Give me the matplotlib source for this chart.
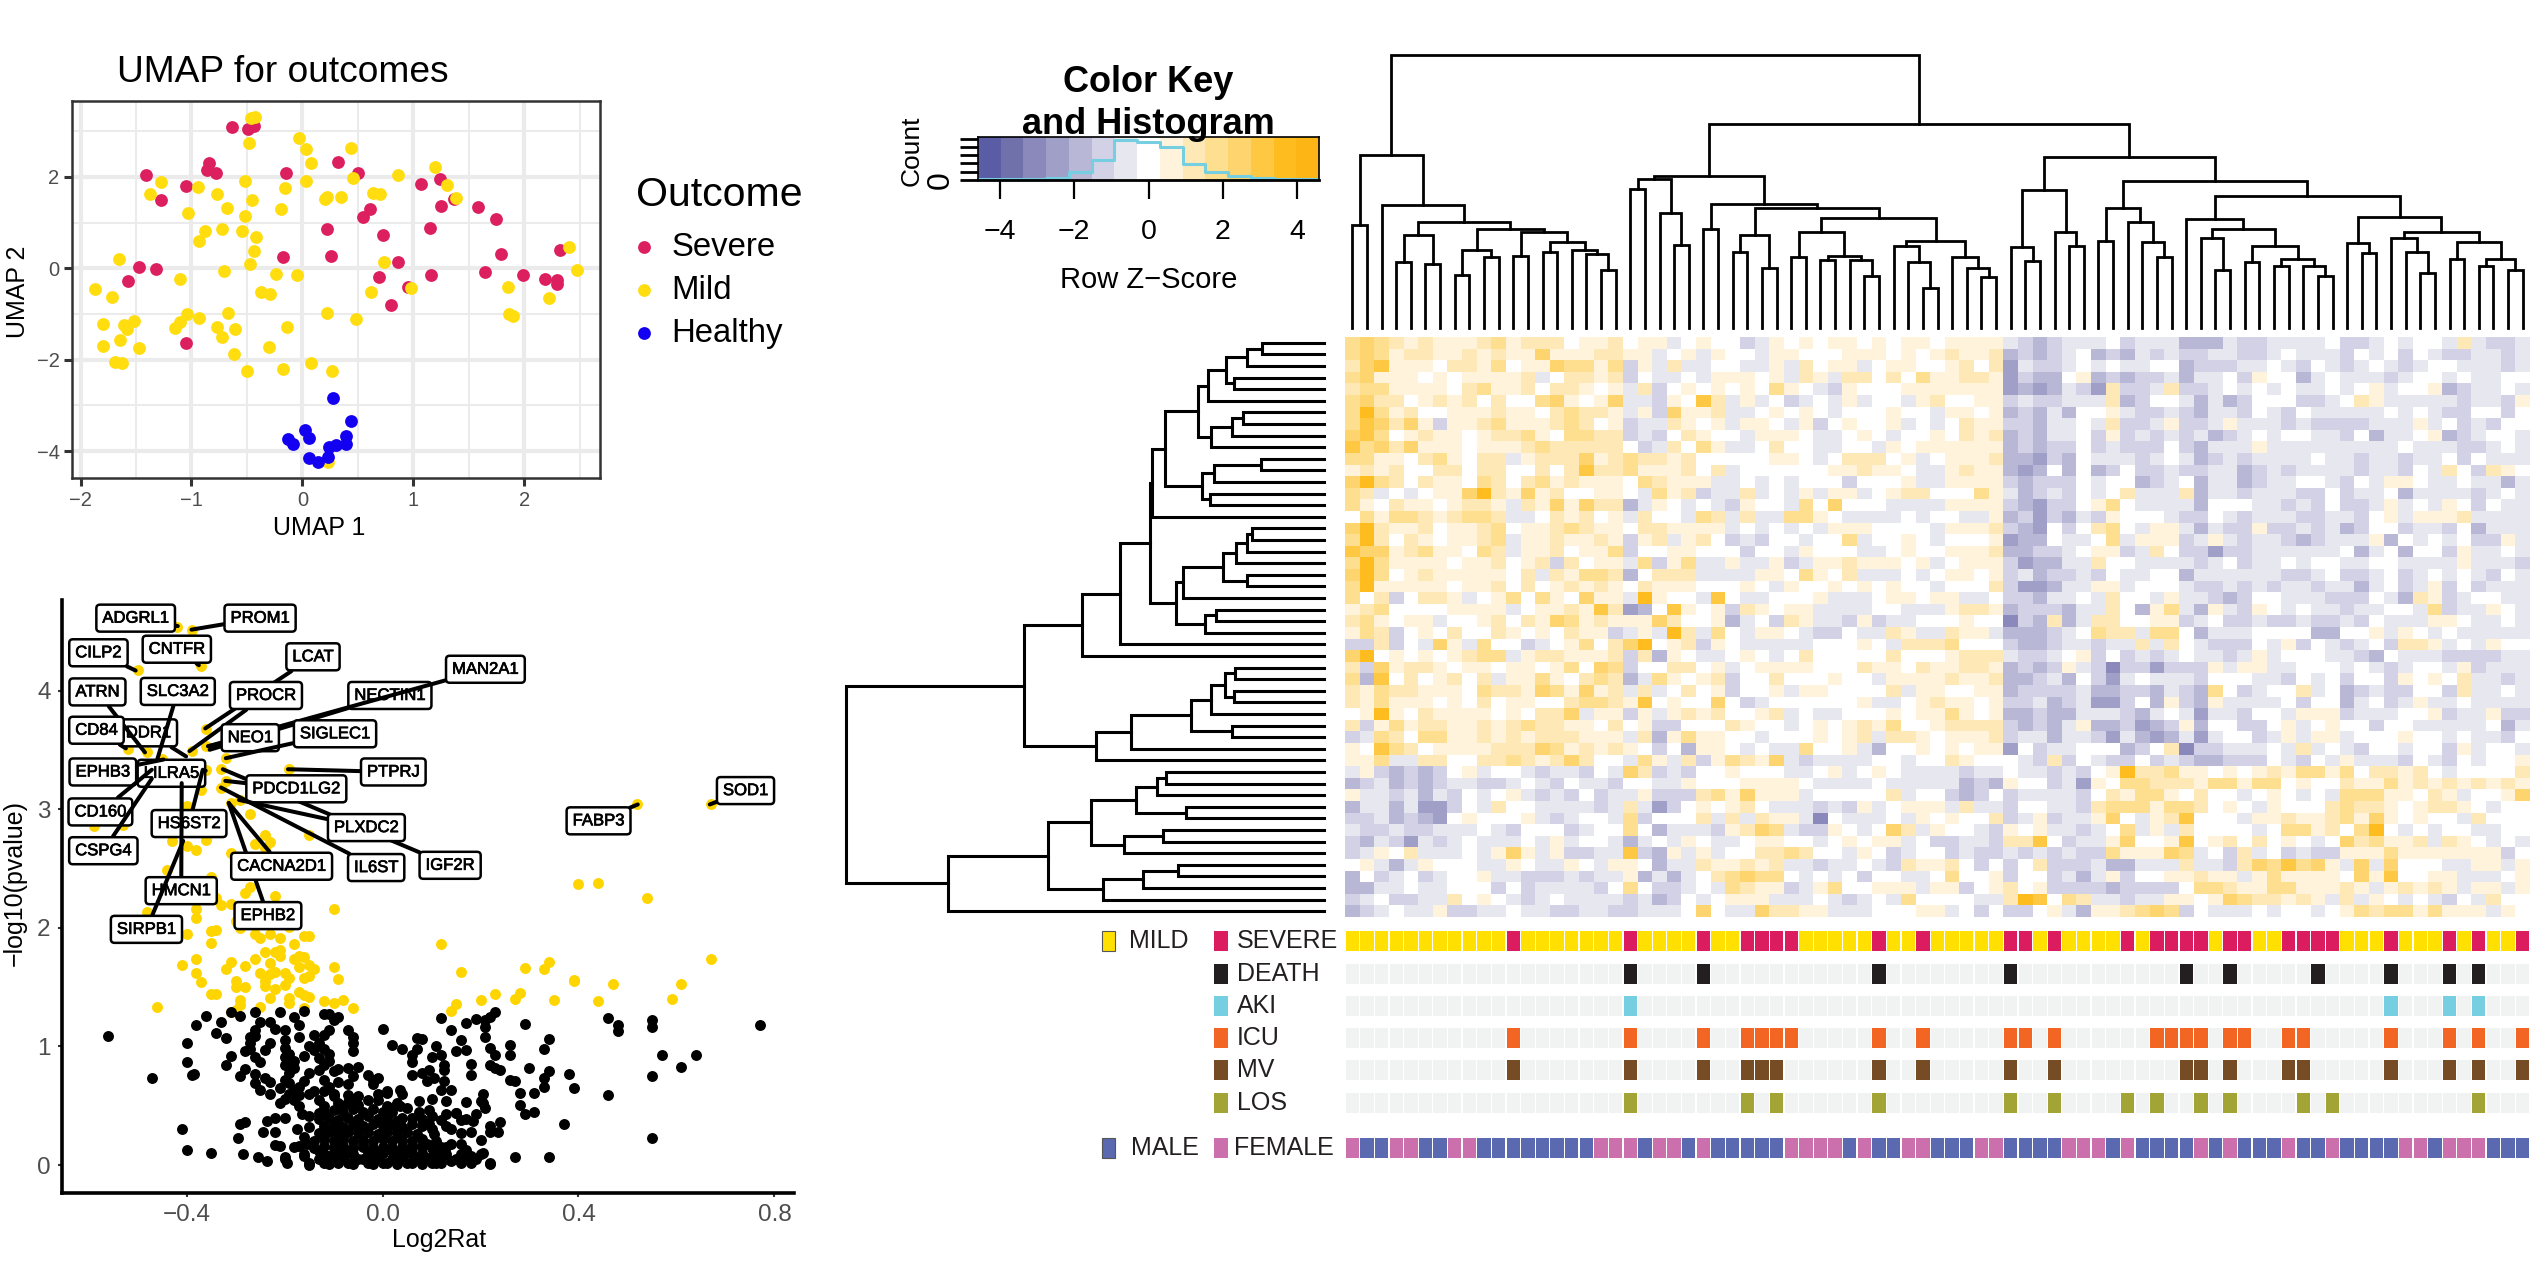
import numpy as np
import matplotlib
matplotlib.use("Agg")
import matplotlib.pyplot as plt
import matplotlib.patheffects as pe
from matplotlib.colors import ListedColormap, BoundaryNorm
from matplotlib.patches import Rectangle

plt.rcParams['font.family'] = ['Liberation Sans', 'DejaVu Sans']

W, H = 2530, 1277

# ---------- umap data
severe_pts = [(-0.63,3.10),(-0.49,3.04),(-0.44,3.12),(-0.84,2.31),(-0.86,2.16),(-0.78,2.09),(-1.41,2.03),(-1.05,1.79),
 (-1.27,1.50),(-0.15,2.09),(0.32,2.32),(0.50,2.08),(1.07,1.84),(1.24,1.95),(1.37,1.51),(1.25,1.37),(1.58,1.33),(1.75,1.07),
 (0.61,1.29),(0.55,1.12),(1.15,0.87),(0.73,0.72),(0.22,0.85),(0.26,0.27),(-0.17,0.24),(0.86,0.13),(1.79,0.31),(1.65,-0.09),
 (1.99,-0.15),(2.19,-0.24),(2.30,-0.25),(2.30,-0.35),(2.32,0.39),(1.16,-0.14),(0.69,-0.20),(0.95,-0.40),(0.80,-0.80),
 (-1.47,0.02),(-1.32,-0.01),(-1.57,-0.27),(-1.05,-1.64)]
mild_pts = [(-0.46,3.29),(-0.43,3.31),(-0.48,2.73),(-0.03,2.85),(0.03,2.62),(0.44,2.64),(0.08,2.30),(0.46,1.98),(0.03,1.91),
 (0.86,2.04),(1.20,2.21),(1.30,1.82),(1.39,1.54),(-0.52,1.90),(-0.16,1.76),(0.20,1.52),(0.22,1.55),(0.35,1.56),(0.64,1.65),
 (0.70,1.63),(-1.27,1.88),(-1.37,1.62),(-0.94,1.78),(-0.77,1.63),(-0.45,1.50),(-0.19,1.29),(-0.68,1.32),(-1.03,1.22),
 (-0.52,1.14),(-0.88,0.82),(-0.93,0.60),(-0.72,0.86),(-0.54,0.81),(-0.42,0.68),(-0.44,0.38),(-0.47,0.10),(-1.65,0.20),
 (-0.71,-0.07),(-1.10,-0.24),(-0.24,-0.12),(-0.05,-0.15),(0.74,0.14),(2.40,0.47),(2.48,-0.04),(1.85,-0.41),(2.22,-0.65),
 (1.86,-1.00),(1.90,-1.04),(0.98,-0.43),(0.62,-0.53),(0.22,-0.99),(0.48,-1.11),(-1.87,-0.46),(-1.72,-0.62),(-0.37,-0.53),
 (-0.29,-0.57),(-0.67,-0.97),(-1.04,-1.00),(-0.93,-1.09),(-1.10,-1.18),(-1.15,-1.31),(-0.77,-1.29),(-0.61,-1.33),(-0.72,-1.50),
 (-0.14,-1.29),(-1.80,-1.21),(-1.61,-1.25),(-1.58,-1.33),(-1.52,-1.15),(-1.80,-1.71),(-1.64,-1.58),(-1.47,-1.75),(-0.62,-1.88),
 (-0.30,-1.73),(-1.69,-2.05),(-1.63,-2.08),(-0.50,-2.25),(-0.17,-2.20),(0.08,-2.07),(0.27,-2.24),(0.23,-4.24)]
healthy_pts = [(0.28,-2.83),(0.44,-3.35),(0.02,-3.55),(0.06,-3.71),(-0.13,-3.73),(-0.08,-3.85),(0.39,-3.67),(0.39,-3.85),
 (0.30,-3.86),(0.24,-3.91),(0.23,-4.12),(0.06,-4.16),(0.14,-4.24)]

# ---------- volcano data
sig_pts = [(0.52,3.04),(0.67,3.04),(0.40,2.37),(0.44,2.38),(0.54,2.25),(0.67,1.74),(0.12,1.86),(0.16,1.63),(0.29,1.66),(0.33,1.65),
 (0.34,1.71),(0.39,1.56),(0.39,1.55),(0.47,1.53),(0.61,1.53),(0.59,1.40),(0.44,1.38),(0.35,1.39),(0.28,1.45),(0.27,1.40),(0.23,1.44),
 (0.20,1.39),(0.15,1.36),(0.14,1.30),(-0.10,2.16),(-0.46,1.33),(-0.06,1.32),(-0.42,4.54),(-0.39,4.51),(-0.37,4.21),(-0.50,4.17),
 (-0.36,3.68),(-0.36,3.53),(-0.39,3.49),(-0.52,3.51),(-0.48,3.48),(-0.45,3.42),(-0.36,3.33),(-0.32,3.43),(-0.33,3.34),(-0.32,3.24),
 (-0.33,3.18),(-0.19,3.34),(-0.29,3.08),(-0.31,3.05),(-0.37,3.16),(-0.40,3.03),(-0.27,2.96),(-0.59,2.86),(-0.53,2.87),(-0.24,2.78),
 (-0.15,2.78),(-0.26,2.71),(-0.23,2.72),(-0.24,2.67),(-0.43,2.73),(-0.40,2.69),(-0.38,2.66),(-0.36,2.74),(-0.31,2.63),(-0.44,2.49),
 (-0.35,2.43),(-0.27,2.34),(-0.28,2.29),(-0.22,2.27),(-0.48,2.13),(-0.34,2.25),(-0.33,2.19),(-0.31,2.20),(-0.38,2.16),(-0.38,2.08),
 (-0.30,2.06),(-0.40,1.95),(-0.35,1.97),(-0.34,1.98),(-0.29,2.00),(-0.35,1.87),(-0.19,2.01),(-0.26,1.95),(-0.23,1.95),(-0.25,1.91),
 (-0.21,1.91),(-0.16,1.93),(-0.15,1.93),(-0.18,1.86),(-0.41,1.69),(-0.38,1.74),(-0.38,1.62),(-0.37,1.54),(-0.35,1.44),(-0.34,1.44),
 (-0.32,1.65),(-0.31,1.71),(-0.28,1.68),(-0.26,1.74),(-0.24,1.80),(-0.22,1.80),(-0.21,1.81),(-0.23,1.70),(-0.21,1.76),(-0.18,1.74),
 (-0.17,1.76),(-0.16,1.75),(-0.17,1.67),(-0.15,1.69),(-0.14,1.65),(-0.10,1.67),(-0.09,1.57),(-0.25,1.62),(-0.23,1.61),(-0.22,1.63),
 (-0.20,1.62),(-0.19,1.58),(-0.16,1.58),(-0.15,1.59),(-0.20,1.52),(-0.24,1.51),(-0.30,1.55),(-0.30,1.50),(-0.28,1.50),(-0.24,1.55),
 (-0.22,1.48),(-0.23,1.41),(-0.17,1.46),(-0.16,1.43),(-0.15,1.42),(-0.19,1.41),(-0.19,1.37),(-0.16,1.32),(-0.12,1.38),(-0.10,1.37),
 (-0.08,1.39),(-0.25,1.33),(-0.29,1.39),(-0.29,1.35),(-0.30,1.31),(-0.31,1.29)]
ns_pts = [(-0.56,1.09),(-0.47,0.73),(-0.41,0.30),(-0.40,0.13),(-0.35,0.10),(-0.40,1.03),(-0.40,0.87),(-0.39,0.76),(-0.385,0.77),
 (-0.38,1.18),(-0.36,1.26),(-0.33,1.21),(-0.34,1.11),(-0.32,1.07),(-0.32,0.84),(-0.31,0.92),(-0.31,1.29),(-0.29,1.26),(-0.26,1.29),
 (-0.25,1.21),(-0.23,1.21),(-0.22,1.15),(-0.20,1.14),(-0.21,1.29),(-0.16,1.30),(-0.18,1.25),(-0.12,1.27),(-0.11,1.27),(-0.09,1.25),
 (-0.10,1.22),(-0.17,1.18),(-0.17,1.08),(-0.14,1.10),(-0.12,1.10),(-0.11,1.14),(-0.07,1.14),(-0.06,1.08),(-0.06,1.03),(-0.06,0.96),
 (0.00,1.15),(0.02,1.01),(0.04,0.98),(0.07,1.07),(0.08,1.06),(0.07,0.98),(0.06,0.93),(0.06,0.87),(0.11,1.00),(0.10,0.91),(0.12,0.93),
 (0.12,1.24),(0.14,1.14),(0.17,1.20),(0.19,1.23),(0.21,1.22),(0.22,1.25),(0.23,1.29),(0.21,1.16),(0.21,1.08),(0.16,1.05),(0.17,0.97),
 (0.15,0.96),(0.22,0.99),(0.23,0.93),(0.18,0.85),(0.18,0.76),(0.22,0.84),(0.23,0.82),(0.24,0.80),(0.26,1.01),(0.26,0.93),(0.29,1.19),
 (0.34,1.06),(0.33,0.98),(0.30,0.82),(0.34,0.79),(0.33,0.73),(0.33,0.66),(0.31,0.61),(0.28,0.61),(0.28,0.51),(0.29,0.43),(0.31,0.45),
 (0.26,0.72),(0.27,0.71),(0.38,0.77),(0.39,0.65),(0.46,0.59),(0.37,0.35),(0.27,0.07),(0.34,0.07),(0.46,1.24),(0.48,1.18),(0.48,1.13),
 (0.55,1.22),(0.55,1.16),(0.57,0.93),(0.64,0.93),(0.61,0.83),(0.55,0.75),(0.55,0.23),(0.77,1.18),
 (-0.26,1.14),(-0.27,1.08),(-0.26,1.09),(-0.27,1.03),(-0.28,0.96),(-0.27,0.98),(-0.24,0.97),(-0.23,1.03),(-0.26,0.91),(-0.25,0.87),
 (-0.28,0.81),(-0.29,0.75),(-0.26,0.77),(-0.24,0.73),(-0.26,0.69),(-0.23,0.70),(-0.25,0.63),(-0.23,0.60),(-0.21,0.52),(-0.20,1.05),
 (-0.20,0.99),(-0.20,0.91),(-0.18,0.88),(-0.20,0.84),(-0.19,0.78),(-0.20,0.72),(-0.19,0.69),(-0.21,0.65),(-0.18,0.63),(-0.16,0.71),
 (-0.17,0.59),(-0.18,0.55),(-0.13,1.03),(-0.14,0.97),(-0.13,0.90),(-0.13,0.80),(-0.12,0.72),(-0.14,0.62),(-0.13,0.55),(-0.12,0.50),
 (-0.11,0.88),(-0.10,0.79),(-0.11,0.66),(-0.09,0.70),(-0.09,0.81),(-0.07,0.82),(-0.05,0.83),(-0.06,0.75),(-0.03,0.76),(-0.02,0.72),
 (-0.07,0.68),(-0.02,0.68),(0.01,0.62),(-0.01,0.55),(0.01,0.50),(0.03,0.52),(0.04,0.60),(0.02,0.45),(0.04,0.40),
 (-0.15,0.02),(-0.12,0.02),(-0.11,0.01),(-0.09,0.02),(-0.07,0.02),(-0.06,0.01),(-0.03,0.02),(-0.02,0.01),(0.00,0.02),(0.01,0.02),
 (0.03,0.01),(0.05,0.02),(0.06,0.02),(0.08,0.01),(0.10,0.02),(0.11,0.02),(0.16,0.02),(0.18,0.02),(0.22,0.02),
 (-0.13,0.05),(-0.10,0.05),(-0.08,0.06),(-0.05,0.05),(-0.04,0.05),(-0.01,0.06),(0.02,0.05),(0.04,0.06),(0.07,0.05),(0.09,0.05),
 (0.12,0.06),(0.15,0.05),(0.17,0.06),(0.19,0.05),(-0.20,0.05),(-0.16,0.09),(-0.12,0.09),(-0.09,0.10),(-0.06,0.09),(-0.03,0.09),
 (0.00,0.10),(0.03,0.09),(0.06,0.09),(0.08,0.10),(0.13,0.09),(0.16,0.09),(0.18,0.08),(0.20,0.09),
 (-0.29,0.35),(-0.28,0.36),(-0.295,0.23),(-0.245,0.28),(-0.22,0.28),(-0.235,0.37),(-0.22,0.40),(-0.20,0.40),(-0.175,0.30),(-0.165,0.43),
 (-0.15,0.41),(-0.22,0.17),(-0.21,0.16),(-0.18,0.15),(-0.17,0.16),(-0.155,0.18),(-0.20,0.07),(-0.195,0.02),(-0.235,0.03),(-0.255,0.07),
 (-0.285,0.09),(-0.16,0.08),(-0.15,0.00),(-0.14,0.14),(-0.12,0.16),(-0.10,0.14),(-0.08,0.16),(-0.06,0.14),(-0.04,0.15),(-0.02,0.14),
 (0.00,0.15),(0.02,0.14),(0.04,0.15),(0.06,0.14),(0.08,0.16),(0.10,0.14),(0.12,0.15),(-0.14,0.20),(-0.12,0.22),(-0.10,0.20),(-0.08,0.22),
 (-0.06,0.20),(-0.04,0.21),(-0.02,0.20),(0.00,0.22),(0.02,0.20),(0.04,0.21),(0.06,0.20),(0.08,0.22),(-0.13,0.27),(-0.11,0.28),(-0.09,0.26),
 (-0.07,0.28),(-0.05,0.27),(-0.03,0.28),(-0.01,0.26),(0.01,0.28),(0.03,0.27),(0.05,0.28),(0.07,0.26),(-0.12,0.33),(-0.10,0.34),(-0.08,0.32),
 (-0.06,0.34),(-0.04,0.33),(-0.02,0.35),(0.00,0.33),(0.02,0.34),(0.04,0.32),(0.06,0.35),(0.08,0.33),(-0.13,0.39),(-0.11,0.40),(-0.09,0.38),
 (-0.07,0.40),(-0.05,0.39),(-0.03,0.41),(-0.01,0.39),(0.01,0.40),(0.06,0.40),(0.08,0.39),(-0.12,0.45),(-0.10,0.46),(-0.08,0.44),(-0.06,0.47),
 (-0.04,0.45),(-0.02,0.47),(0.00,0.45),(-0.09,0.52),(-0.07,0.53),(-0.05,0.51),(-0.03,0.55),(-0.10,0.58),(-0.07,0.59),(-0.05,0.58),(-0.12,0.62),
 (0.185,0.37),(0.19,0.43),(0.22,0.33),(0.24,0.36),(0.235,0.28),(0.22,0.28),(0.18,0.28),(0.20,0.21),(0.205,0.10),(0.22,0.01),(0.15,0.44),
 (0.16,0.38),(0.17,0.39),(0.13,0.43),(0.095,0.35),(0.13,0.33),(0.14,0.30),(0.16,0.27),(0.16,0.18),(0.14,0.18),(0.105,0.26),(0.11,0.20),
 (0.13,0.15),(0.205,0.60),(0.20,0.54),(0.21,0.48),(0.205,0.52),(0.17,0.53),(0.15,0.44),(0.125,0.71),(0.12,0.63),(0.14,0.63),(0.13,0.54),
 (0.10,0.56),(0.075,0.54),(0.095,0.46),(0.075,0.45),(0.05,0.48),(0.035,0.50),(0.015,0.48),(0.08,0.78),(0.095,0.80),(0.09,0.71),(0.105,0.73),
 (0.06,0.76),(0.125,0.80),(0.125,0.84),(0.035,0.63),(0.01,0.61),(-0.01,0.60),(-0.01,0.73),
 (-0.19,0.94),(-0.18,0.82),(-0.17,0.66),(-0.19,0.60),(-0.20,0.56),(-0.17,0.50),(-0.15,0.60),(-0.15,0.78),(-0.16,0.92),(-0.15,1.00),
 (-0.12,0.98),(-0.11,0.94),(-0.12,0.84),(-0.10,0.60),(-0.13,0.44),(-0.15,0.32),(-0.16,0.24),(-0.11,0.08),(-0.07,0.11),(-0.02,0.06),
 (0.02,0.12),(0.05,0.11),(0.10,0.08),(0.12,0.02),(0.14,0.03),(0.17,0.13),(0.11,0.12),(0.09,0.18),(0.10,0.30),(0.12,0.38),(0.10,0.41),
 (-0.01,0.11),(-0.04,0.18),(0.03,0.24),(-0.05,0.31),(0.03,0.37),(-0.08,0.50),(-0.06,0.56),(0.06,0.17),(-0.10,0.30),(-0.13,0.12)]

# gene labels, drawn in this order so the boxes stack as in the picture
gene_names = ["IGF2R","EPHB2","LILRA5","DDR1","NECTIN1","MAN2A1","HS6ST2","HMCN1","SIRPB1","EPHB3","ATRN","CD84","SLC3A2","CD160",
 "CSPG4","ADGRL1","PROM1","CILP2","CNTFR","LCAT","PROCR","NEO1","SIGLEC1","PTPRJ","PDCD1LG2","PLXDC2","IL6ST","CACNA2D1","SOD1","FABP3"]
gene_x = [-0.326,-0.314,-0.361,-0.401,-0.353,-0.356,-0.367,-0.410,-0.407,-0.447,-0.485,-0.524,-0.460,-0.471,-0.471,-0.418,-0.390,-0.504,
 -0.375,-0.362,-0.394,-0.356,-0.320,-0.193,-0.321,-0.293,-0.330,-0.314,0.668,0.521]
gene_y = [3.337,3.052,3.325,3.445,3.501,3.531,3.333,3.220,2.733,3.419,3.479,3.513,3.419,3.333,3.258,4.544,4.514,4.169,4.214,3.681,3.490,
 3.531,3.430,3.337,3.239,3.078,3.183,3.052,3.04,3.04]
label_x = [0.138,-0.234,-0.431,-0.478,0.015,0.210,-0.395,-0.411,-0.482,-0.571,-0.582,-0.584,-0.418,-0.576,-0.570,-0.504,-0.250,-0.580,
 -0.420,-0.142,-0.238,-0.270,-0.097,0.022,-0.176,-0.033,-0.013,-0.206,0.741,0.441]
label_y = [2.527,2.103,3.303,3.644,3.959,4.180,2.879,2.313,1.987,3.314,3.989,3.666,3.993,2.977,2.650,4.611,4.611,4.319,4.349,4.285,3.959,
 3.603,3.636,3.314,3.172,2.845,2.508,2.519,3.157,2.902]

# ---------- heatmap, one character per cell: 0 white, 1-7 amber steps, a-g purple steps
heat_left = [
"3432121112312220112011a0100ba10101101011"[:40],
"3431221121211411122 1".replace(" ","")[:20]+"1a01a100a11000111010",
"2451110221301143313b1a2aa00aa1a2011a0110",
"3411101011112a02212b0aa0a11101a21a220203",
"2331111023112022101a2b0101010310ab100011",
"3422012120200341014aab1052a1a0ba0a1a00a1",
"3631200111211023221a1b4112aa01010a000100",
"354241b112311123201baa2101a110a1b01001a0",
"4530121101223103322bab02100a1110aa010a00",
"53424111011123222220ba2031aa0200aa00a101",
"33110231022a12224123221200000110a022201a",
"12120022022002025223111202a000000112110a",
"4632021103202312111032111aa0a0a000b0001a",
"32a0a011462141200110a312baa2a0a1a11a0122",
"31021101221a2141422ca10a0ab100a304000aaa",
"03133212332aa021201a200a32a2aa3310aaaa0a",
"46211201123011232110221111a0a0a0a1110000",
"36202101123a1121121b12a120bab00a003a0010",
"54412311032a1120113b0011000b00a1000aa010",
"36311110112012b2011a3b13aa1aa1ba11211101",
"4630121111102a21332c0222aaaa1103102aaa0a"[:40],
"36111110112020121210211100010a1001010100"[:40],
"302b0221a0130310411a6100a50aa0001aaa0110",
"12300001111a0112152dc05101b21011aaaa00aa",
"231011a001202143121114200 1ca0b21aab1baa0".replace(" ",""),
"132b01020021010211ba1a62a30a110abb0aa21a",
"bb2b0a41a300ba0130246012b10aaaaa00010a22",
"46010101233a1221112b2c10aa010a0200000200",
"2b41221011011013043b002201a0111100021102",
"3c50201202a11310232ca31012b002000100a111",
"2132211103221431412a2a0201b001a1100002a1",
"213111010201100233215010040ba0000001aa01",
"0161021111010224a11b1a12120012a0aa000101",
"2b131221121232211020 1bb0002100a010121300".replace(" ",""),
"ba32033112121222111a2c131100a0001012a221",
"10532011112224312121 0b0c110a0aa3001ac001".replace(" ",""),
"113aa22002232124200a31a2b13214abaaaa00a0",
"a1bcbcb01a00abaab0a42bab001000aa01a010aa",
"cbacbcbaabba0ab0aab00aa100011110aaaa0aaa",
"1aabacab0a01abab0baa1bbb2314111a000002a0",
"caacaddb0a200aaaaba2adb010120aaabab1a011",
"bbacbcd010001aba00a3b0002a2a211ae0aaa0a1",
"abbabbaaa0ab000ba0030caaab1243abb10a042a",
"bcabdaba0aaa0a1a00aca0a10aa01100a01011a0",
"ba102aaa0a141a1bbaa5bc1a1a00223200a10ba0",
"01aca1000aa10aa10a110caa211212aabaa0ab21",
"c0ba0ba001aabbbabaa1caca0234330a0a0b00aa",
"ccaa0aa000b0baaaab030bba0a3211ba1300111a",
"ba0bbaa2010aba0aaaabacb0a0111aaa0aba0a30",
"cba0aa1bbaa0aabbaabbaaa040aa42211aaa0001",
]
heat_right = [
"01111abcbaaa0baaacccabbaaaa0bba0a00a2abba",
"12112cbcba0cbcababbaabba0aaab0a0b0abbaaba",
"01202dabba0a0aa00cbbbaa0ab0aba0aba00aaaba",
"11221dbcc01cbcbbacaa0b100ca0aaaba00a0aa00",
"11111dcdcabd2bba2bba0a0a0aa0a01a001cbaa0a",
"20011babbaaa2cb00acacb000bba021aaaaabaab1",
"a1101cbcac001abbabcaab0ab0aaaaa0a0abb00b0",
"a0211bbcaa0a2bba1bba1aaababbbbaaa1a0bab00",
"10212cbcaa0b1bababacba0a00aab0caa01cba00a",
"11111cbcbb0babbb0bcaaa1aaaaaaaaa0aaabba0a",
"01112ccdbc0aaaba0acbabaaaa0aabaabaa0b0aaa",
"a1211cdc0c0cb0bbabbaacbabaaaabaab0a20b210",
"a1111bcbbb0a00cba0caacbaa00ab0a110aa0aaca",
"00031acbab0a02aaa2caabaaabb0baa0caaaaba0a",
"a1111bcdbb0130aaaac000aabab0bba1a0a10b0aa",
"00aa1cbdbcab1000abb0abaaabbaab01a1112aaaa",
"a1112bcd0b0230a11acabb1bbabacb00baab0caaa",
"a0001dcc0aa03a111ba1abaabcbaaa1c0a0a0bb1a",
"01112ccbba011ba20bbdbbaaaaaa0ca0c00b1aa0a",
"a0111bdccaa200aaaaba0baa0a00aa00aaaa1aaab",
"01101bacbbab0aa00caaaaaabba0bba0ba0a0ab0a",
"a0002bddcaa11a000abbababaabaaca0ba1b0baaa",
"11aa0bbcaa0a200a1aabcb00aaabbb0ac21ba00aa",
"a1221cbbbcaa20c13ac1ab10a0aabaa00a3baa10a",
"00100ebc2ca220011ba0bbabbabbab0aaa110aa0a",
"a211acccba0322a330caaa0000cc001a10a0aaaaa",
"23000bccbaabaa2a20abbb0a1b0aba0b221a0a100",
"01222abba01b0baba0aaba1a000aabc0aaabbbbaa",
"11221cbcb1abebbdbbb1a11aa000a0aba00a1baaa",
"12112ccbac0bda0aaab000aab0a0b00b10102aaba",
"10011cbbbbaccbbcabc30ba002a0cbabb00b2aa0a",
"21101bbacbaddb0c1bc1aaaa0b00ca0ba1aa0aaaa",
"13101ccbccaaabca0adaab00a111baaa001baa1bb",
"12222bcbca1ccbdcb1c00bb01a0100b00aaaaa0ca",
"01112baacaabdacdcada00ba1a11a000100a0aab0",
"01011d0baa000cb02ebbaaa0a2a0ab00a00b1a00a",
"021000ab2b0abb0babccbbb0ab0a1aaab0ab0a001",
"aabaa0aabab0162231101012133130 22120a00002".replace(" ",""),
"aacbc100bad10332221331330100211312121212 1".replace(" ",""),
"0bcb0baaaab0213310200a010a0a33311021a0014",
"1a2aab00aab23331332010a10002322101221 0a00".replace(" ",""),
"01002ba1baa140a125000a11211231410100a2000",
"100ab101aaba03a1a20000a033120360a0a00aa00",
"bbaab2250baa14001501202010a0423112a210a0a",
"0babbabababb311143a0b2a0babb11131111111b01"[:41],
"120b0b02bbbaccaaa2aab2435341a4a4000aa11a1",
"03001b00baca1b0011211a13111104150011aaa01",
"11b01201bbbbcbbbb0332113311121a12121a11a1",
"000aa265032aabaa110143221 21a2a10a0ab0a200".replace(" ",""),
"1a0b0bb01ac112343b0aaa0a00a01323313111a10",
]
code_chars = "gfedcba01234567"   # -7 .. +7
key_colors = ["#5A5CA6","#7070AB","#8B89BB","#9F9FC7","#B8B7D6","#D2D1E6","#E7E7F0","#FFFFFF",
              "#FFF3DC","#FEE8B5","#FEDE8F","#FED46F","#FEC842","#FEBC1F","#FDB515"]
key_breaks = [-4.585+0.6113*i for i in range(16)]
hist_counts = [4,4,4,6,23,61,122,116,101,48,23,11,7,4,4]

# ---------- column annotations, cells that are switched on
severe_cols = [11,19,24,27,28,29,30,36,39,45,46,48,53,55,56,57,58,60,61,64,65,66,67,71,75,77,80]
death_cols = [19,24,36,45,57,60,66,71,75,77]
aki_cols = [19,71,75,77]
icu_cols = [11,19,24,27,28,29,30,36,39,45,46,48,55,56,57,58,60,61,64,65,71,75,77,80]
mv_cols = [11,19,24,27,28,29,36,39,45,48,57,58,60,64,65,71,75,77,80]
los_cols = [19,27,29,36,45,48,53,55,58,60,65,67,77]
female_cols = [0,3,4,7,8,17,18,19,21,22,24,30,31,32,33,35,38,39,43,44,49,50,51,53,58,60,64,67,72,73,75,76,77]

# ---------- dendrograms: (height, left, right), 0 is a leaf
col_tree = (81.7,
 (51.8,(30.8,0,0),
  (36.9,0,
   (31.8,(27.8,(19.8,0,0),(19.3,0,0)),
    (29.6,(23.3,(16,0,0),(21.1,0,0)),
     (28.8,(21.6,0,0),(25.8,(22.6,0,0),(23.3,0,(22.1,0,(17.5,0,0))))))))),
 (61,
  (45.6,(44.6,(41.5,0,0),(34.5,0,(24.8,0,0))),
   (37.1,(29.5,0,0),
    (35.8,(27.8,(22.8,0,0),(18.1,0,0)),
     (32.8,(28.8,(21.1,0,0),(21.6,(20.3,0,0),(20.3,0,(15.7,0,0)))),
      (26,(24.5,0,(19.7,0,(12.1,0,0))),(21.3,0,(18,0,(15.3,0,0)))))))),
  (51.2,(41.3,(24.3,0,(20,0,0)),(28.8,0,(24.5,0,0))),
   (44.1,(35.8,(26,0,0),(31.8,0,(25.7,0,(21.1,0,0)))),
    (39.6,(32.7,0,(29.6,(27,0,(17.3,0,0)),(24.5,(19.8,0,0),(20.5,(18.7,0,0),(18.5,0,(15.5,0,0)))))),
     (33.1,(25.5,0,(22.3,0,0)),
      (28.6,(26.8,0,(22.7,0,(16.5,0,0))),(25.7,(20.6,0,0),(20.5,(18.7,0,0),(17.5,0,0))))))))))
row_tree = (144.3,
 (90.5,
  (73,
   (61.5,
    (52.5,
     (51.8,
      (48,
       (38,(35,(29.7,(23.2,(18.7,0,0),0),(27,0,0)),0),(34.2,(27.8,(24.4,0,0),0),0)),
       (36.8,(33.3,(19,0,0),0),(34.4,0,0))),
      0),
     (44.7,
      (42.5,(30.5,(26.5,(23.2,(21.8,0,0),0),0),(23.2,0,0)),0),
      (36,(32.5,0,0),0))),
    0),
   0),
  (68.7,(58.2,(40,(34,(29.8,(26.8,0,0),(27,0,0)),0),(27.8,0,0)),0),0)),
 (113.5,
  (83.2,
   (70.3,(56.8,(50.5,(47.8,0,0),0),(41.5,0,0)),(60.2,(48.5,0,0),0)),
   (66.8,(54.5,(44,0,0),0),0)),
  0))


def px_axes(left, top, right, bottom):
    return fig.add_axes([left/W, 1-bottom/H, (right-left)/W, (bottom-top)/H])


def draw_tree(ax, node, counter, sideways=False):
    if node == 0:
        pos = counter[0]
        counter[0] += 1
        return pos, 0
    h, left, right = node
    p1, h1 = draw_tree(ax, left, counter, sideways)
    p2, h2 = draw_tree(ax, right, counter, sideways)
    a, b = [p1, p1, p2, p2], [h1, h, h, h2]
    if sideways:
        ax.plot(b, a, color="black", lw=2.2, clip_on=False, solid_joinstyle="miter")
    else:
        ax.plot(a, b, color="black", lw=2, clip_on=False, solid_joinstyle="miter")
    return (p1+p2)/2, h


fig = plt.figure(figsize=(W/100, H/100), dpi=100)

# ---------- UMAP panel
ax = px_axes(72, 101, 600, 478)
for pts, col, lab in [(severe_pts, "#DC1F5E", "Severe"), (mild_pts, "#FFDD0F", "Mild"), (healthy_pts, "#1400F0", "Healthy")]:
    pts = np.array(pts)
    ax.scatter(pts[:, 0], pts[:, 1], s=85, c=col, label=lab, zorder=3, linewidths=0)
ax.set_xlim(-2.077, 2.684)
ax.set_ylim(-4.59, 3.66)
ax.set_xticks([-2, -1, 0, 1, 2])
ax.set_yticks([-4, -2, 0, 2])
ax.set_xticks([-1.5, -0.5, 0.5, 1.5, 2.5], minor=True)
ax.set_yticks([-3, -1, 1, 3], minor=True)
ax.grid(True, which="major", color="#EBEBEB", lw=3)
ax.grid(True, which="minor", color="#EBEBEB", lw=1.5)
ax.set_axisbelow(True)
ax.tick_params(which="minor", length=0)
ax.tick_params(which="major", length=6, width=2.2, color="#333333", labelcolor="#4D4D4D", labelsize=14.5, pad=3)
for s in ax.spines.values():
    s.set_linewidth(1.8)
    s.set_color("#333333")
ax.set_xlabel("UMAP 1", fontsize=18, va="center")
ax.xaxis.set_label_coords(0.468, -0.133)
ax.set_ylabel("UMAP 2", fontsize=18, va="center")
ax.yaxis.set_label_coords(-0.102, 0.495)
t = ax.set_title("UMAP for outcomes", loc="left", fontsize=26.7, pad=14)
t.set_x(0.085)
leg = ax.legend(title="Outcome", loc="upper left", bbox_to_anchor=(636/W, 1-176/H), bbox_transform=fig.transFigure,
                frameon=False, fontsize=23.7, title_fontsize=29.5, labelspacing=0.36, handlelength=0.5, handletextpad=0.58,
                borderpad=0, borderaxespad=0)
leg._legend_box.align = "left"
leg._legend_box.sep = 13

# ---------- volcano panel
ax2 = px_axes(61.7, 600, 794, 1193)
sig = np.array(sig_pts)
ns = np.array(ns_pts)
ax2.scatter(sig[:, 0], sig[:, 1], s=62, c="#FFD500", linewidths=0, zorder=2)
ax2.scatter(ns[:, 0], ns[:, 1], s=62, c="black", linewidths=0, zorder=2.5)
ax2.set_xlim(-0.655, 0.84)
ax2.set_ylim(-0.236, 4.764)
ax2.set_xticks([-0.4, 0.0, 0.4, 0.8])
ax2.set_xticklabels(["\u22120.4", "0.0", "0.4", "0.8"])
ax2.set_yticks([0, 1, 2, 3, 4])
ax2.tick_params(length=3, width=1.5, color="#333333", labelcolor="#4D4D4D", labelsize=17.5, pad=5)
for s in ["top", "right"]:
    ax2.spines[s].set_visible(False)
for s in ["left", "bottom"]:
    ax2.spines[s].set_linewidth(2.6)
ax2.set_xlabel("Log2Rat", fontsize=18, va="center")
ax2.xaxis.set_label_coords(0.515, -0.08)
ax2.set_ylabel("\u2212log10(pvalue)", fontsize=18, va="center")
ax2.yaxis.set_label_coords(-0.064, 0.523)
for i, name in enumerate(gene_names):
    ax2.annotate(name, xy=(gene_x[i], gene_y[i]), xytext=(label_x[i], label_y[i]), fontsize=12, ha="center", va="center",
                 color="black", zorder=5+i*0.01, annotation_clip=False,
                 path_effects=[pe.withStroke(linewidth=0.5, foreground="black")],
                 bbox=dict(boxstyle="round,pad=0.36,rounding_size=0.22", fc="white", ec="black", lw=1.8),
                 arrowprops=dict(arrowstyle="-", color="black", lw=2.9, shrinkA=0, shrinkB=0))

# ---------- heatmap
codes = [heat_left[i].ljust(40, "0")[:40]+heat_right[i].ljust(41, "0")[:41] for i in range(len(heat_left))]
heat = np.array([[(code_chars.index(c)-7)*0.6 for c in row] for row in codes])
cmap = ListedColormap(key_colors)
norm = BoundaryNorm(key_breaks, cmap.N)
ax_heat = px_axes(1345, 337, 2530, 917)
ax_heat.pcolormesh(np.arange(82), np.arange(51), heat, cmap=cmap, norm=norm, linewidth=0, antialiased=False)
ax_heat.set_ylim(50, 0)
ax_heat.axis("off")

# ---------- dendrograms
ax_top = px_axes(1345, 55, 2530, 328)
draw_tree(ax_top, col_tree, [0])
ax_top.set_xlim(-0.5, 80.5)
ax_top.set_ylim(0, 81.7)
ax_top.axis("off")
ax_side = px_axes(845.6, 337, 1324, 917)
draw_tree(ax_side, row_tree, [0], sideways=True)
ax_side.set_xlim(144.3, 0)
ax_side.set_ylim(49.5, -0.5)
ax_side.axis("off")

# ---------- annotation tracks
ax_ann = px_axes(1345, 925, 2530, 1165)
ax_ann.set_xlim(0, 81)
ax_ann.set_ylim(1165, 925)
ax_ann.axis("off")
cols = np.arange(81)+0.5
track_tops = [931, 964, 996, 1028, 1060, 1093, 1138]
track_on = [severe_cols, death_cols, aki_cols, icu_cols, mv_cols, los_cols, female_cols]
track_base = ["#FFE000", "#F1F2F2", "#F1F2F2", "#F1F2F2", "#F1F2F2", "#F1F2F2", "#5B6AB0"]
track_col = ["#DB1C5F", "#231F20", "#76CFE0", "#F26522", "#754C24", "#A2A436", "#CC6FAD"]
track_label = ["SEVERE", "DEATH", "AKI", "ICU", "MV", "LOS", "FEMALE"]
for top, on, base, col in zip(track_tops, track_on, track_base, track_col):
    colors = [col if i in on else base for i in range(81)]
    ax_ann.bar(cols, 19.7, bottom=top, width=0.915, color=colors, linewidth=0)

# ---------- colour key
ax_key = px_axes(978, 137, 1319, 180)
ax_key.pcolormesh(key_breaks, [0, 130], np.array([[(i-7)*0.6 for i in range(15)]]), cmap=cmap, norm=norm, antialiased=False)
ax_key.step(key_breaks, hist_counts+[hist_counts[-1]], where="post", color="#76CFE0", lw=2.2)
ax_key.set_xlim(key_breaks[0], key_breaks[-1])
ax_key.set_ylim(0, 130)
ax_key.set_xticks([-4, -2, 0, 2, 4])
ax_key.set_xticklabels(["\u22124", "\u22122", "0", "2", "4"])
ax_key.set_yticks([0, 25, 50, 75, 100, 125])
ax_key.set_yticklabels(["0", "", "", "", "", ""], rotation=90, va="center", fontsize=23)
ax_key.tick_params(axis="x", length=14, width=1.6, labelsize=20.5, pad=14)
ax_key.tick_params(axis="y", length=13, width=2, pad=3)
for s in ax_key.spines.values():
    s.set_linewidth(1.2)
ax_key.spines["bottom"].set_linewidth(2)
ax_key.set_xlabel("Row Z\u2212Score", fontsize=21, va="center")
ax_key.xaxis.set_label_coords(0.5, -2.33)
ax_key.set_ylabel("Count", fontsize=19, va="center")
ax_key.yaxis.set_label_coords(-0.196, 0.69)

# ---------- text and squares placed on the whole figure
ax_px = px_axes(0, 0, W, H)
ax_px.set_xlim(0, W)
ax_px.set_ylim(H, 0)
ax_px.axis("off")
ax_px.text(1148, 82, "Color Key", fontsize=26, fontweight="bold", ha="center", va="center")
ax_px.text(1148, 125, "and Histogram", fontsize=26, fontweight="bold", ha="center", va="center")
for top, lab, col in zip(track_tops, track_label, track_col):
    ax_px.add_patch(Rectangle((1214, top), 14, 19.7, fc=col, ec="none"))
    ax_px.text(1234 if lab == "FEMALE" else 1237, top+10, lab, fontsize=18, color="#231F20", ha="left", va="center")
ax_px.add_patch(Rectangle((1102, track_tops[0]), 13, 19.7, fc="#FFE000", ec="#555555", lw=0.8))
ax_px.text(1129, track_tops[0]+10, "MILD", fontsize=18, color="#231F20", ha="left", va="center")
ax_px.add_patch(Rectangle((1102, track_tops[6]), 13, 19.7, fc="#5B6AB0", ec="#555555", lw=0.8))
ax_px.text(1131, track_tops[6]+10, "MALE", fontsize=18, color="#231F20", ha="left", va="center")

fig.savefig("out.png", dpi=100)
